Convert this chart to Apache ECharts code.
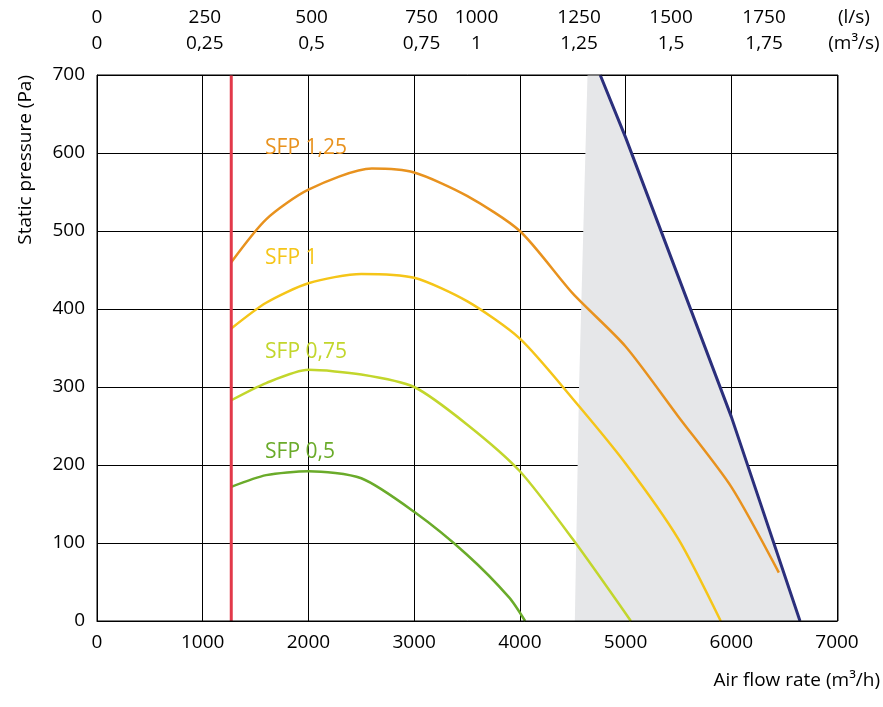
<!DOCTYPE html>
<html><head><meta charset="utf-8">
<script src="https://cdn.jsdelivr.net/npm/echarts@6/dist/echarts.min.js"></script>
<style>html,body{margin:0;padding:0;background:#fff}#c{width:883px;height:707px}</style>
</head><body><div id="c"></div>
<script>
const redX = 1270;
const sfp125 = [[1270,460],[1600,515],[2000,553],[2600,580],[3000,575],[3500,545],[4000,500],[4500,420],[5000,352],[5500,262],[6000,172],[6450,62]];
const sfp100 = [[1270,375],[1600,408],[2000,433],[2500,445],[3000,440],[3500,410],[4000,362],[4500,285],[5000,202],[5500,105],[5900,0]];
const sfp075 = [[1270,283],[1600,305],[2000,322],[2500,316],[3000,300],[3500,252],[4000,192],[4500,105],[5050,0]];
const sfp050 = [[1270,172],[1600,187],[2000,192],[2500,183],[3000,140],[3500,85],[3900,30],[4050,0]];
const limitLine = [[4760,700],[5000,620],[6000,262],[6650,0]];
const grayLeft = [[4640,700],[4560,300],[4520,0]];
const sfpNames = ['SFP 1,25','SFP 1','SFP 0,75','SFP 0,5'];
const labelAnchors = [[1590,606],[1590,465],[1590,345],[1590,217]];
const topLs = ['0','250','500','750','1000','1250','1500','1750','(l/s)'];
const topM3s = ['0','0,25','0,5','0,75','1','1,25','1,5','1,75','(m³/s)'];
const topAnchors = [0,1020,2030,3070,3590,4560,5430,6310,7160];
const colors = ['#e8921e','#f5c518','#c2d62c','#6aab2a'];
const font = 'Open Sans, Noto Sans, sans-serif';
const chart = echarts.init(document.getElementById('c'));
const poly = grayLeft.concat(limitLine.slice().reverse());
const sfpData = [sfp125,sfp100,sfp075,sfp050];
const series = [{
  type:'custom', silent:true, z:1,
  renderItem:(p,api)=>({type:'polygon',shape:{points:poly.map(d=>api.coord(d))},style:{fill:'#e6e7e9'}}),
  data:[0]
}];
sfpData.forEach((d,i)=>series.push({type:'line',data:d,smooth:0.25,symbol:'none',z:3,lineStyle:{color:colors[i],width:2.5},
  markPoint:{symbol:'circle',symbolSize:0,data:[{coord:labelAnchors[i]}],label:{show:true,formatter:sfpNames[i],position:'right',distance:0,color:colors[i],fontSize:21,fontFamily:font}}}));
series.push({type:'line',data:limitLine,symbol:'none',z:4,lineStyle:{color:'#2b2f7c',width:3}});
series.push({type:'line',data:[[redX,0],[redX,700]],symbol:'none',z:5,lineStyle:{color:'#e2394a',width:3}});
chart.setOption({
  animation:false,
  textStyle:{fontFamily:font},
  grid:{left:97,right:45,top:75,bottom:86},
  xAxis:{type:'value',min:0,max:7000,interval:1000,axisLine:{lineStyle:{color:'#000'}},axisTick:{show:false},
    axisLabel:{color:'#000',fontSize:19,margin:12,fontFamily:font,formatter:v=>String(v)},splitLine:{lineStyle:{color:'#000',width:1}},
    name:'Air flow rate (m³/h)',nameLocation:'end',nameGap:0,nameTextStyle:{color:'#000',fontSize:19,align:'right',verticalAlign:'top',padding:[50,-43,0,0]}},
  yAxis:{type:'value',min:0,max:700,interval:100,axisLine:{show:true,lineStyle:{color:'#000'}},axisTick:{show:false},
    axisLabel:{color:'#000',fontSize:19,margin:12,fontFamily:font},splitLine:{lineStyle:{color:'#000',width:1}},
    name:'Static pressure (Pa)',nameLocation:'end',nameRotate:90,nameGap:0,nameTextStyle:{color:'#000',fontSize:19,align:'right',verticalAlign:'bottom',padding:[0,0,62,0]}},
  series
});
const g=[{type:'rect',shape:{x:97,y:75,width:741,height:546},style:{fill:'none',stroke:'#000',lineWidth:1},z:10}];
topAnchors.forEach((v,i)=>{
  const x=chart.convertToPixel({xAxisIndex:0},v);
  g.push({type:'text',x:x,y:18,style:{text:topLs[i],fill:'#000',font:'19px '+font,align:'center',verticalAlign:'middle'}});
  g.push({type:'text',x:x,y:44,style:{text:topM3s[i],fill:'#000',font:'19px '+font,align:'center',verticalAlign:'middle'}});
});
chart.setOption({graphic:g});
</script></body></html>
